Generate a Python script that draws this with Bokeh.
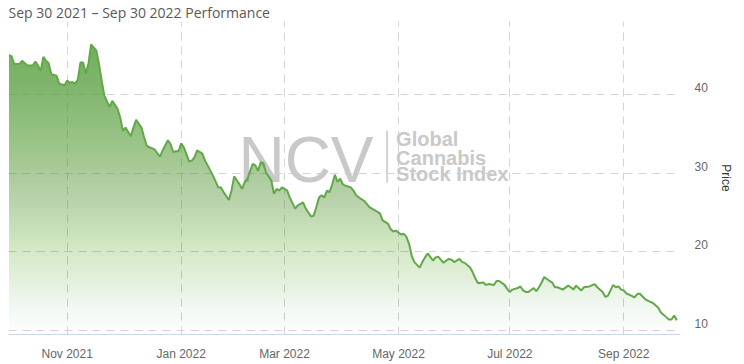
import numpy as np
from bokeh.plotting import figure
from bokeh.models import Range1d, LinearAxis, FixedTicker, Label
from bokeh.embed import file_html
from bokeh.resources import INLINE

title_text = "Sep 30 2021 – Sep 30 2022 Performance"

dates = [
    "2021-09-30", "2021-10-01", "2021-10-04", "2021-10-06", "2021-10-07", "2021-10-08",
    "2021-10-11", "2021-10-13", "2021-10-14", "2021-10-15", "2021-10-18", "2021-10-19",
    "2021-10-20", "2021-10-21", "2021-10-22", "2021-10-26", "2021-10-27", "2021-10-28",
    "2021-10-29", "2021-11-01", "2021-11-02", "2021-11-03", "2021-11-04", "2021-11-05",
    "2021-11-08", "2021-11-09", "2021-11-10", "2021-11-11", "2021-11-12", "2021-11-16",
    "2021-11-17", "2021-11-18", "2021-11-19", "2021-11-23", "2021-11-24", "2021-11-29",
    "2021-11-30", "2021-12-01", "2021-12-02", "2021-12-06", "2021-12-07", "2021-12-08",
    "2021-12-10", "2021-12-13", "2021-12-14", "2021-12-15", "2021-12-16", "2021-12-17",
    "2021-12-21", "2021-12-22", "2021-12-27", "2021-12-28", "2021-12-29", "2021-12-30",
    "2021-12-31", "2022-01-03", "2022-01-04", "2022-01-06", "2022-01-07", "2022-01-10",
    "2022-01-11", "2022-01-13", "2022-01-14", "2022-01-18", "2022-01-20", "2022-01-24",
    "2022-01-25", "2022-01-26", "2022-01-28", "2022-01-31", "2022-02-01", "2022-02-03",
    "2022-02-04", "2022-02-07", "2022-02-08", "2022-02-10", "2022-02-11", "2022-02-14",
    "2022-02-15", "2022-02-16", "2022-02-17", "2022-02-22", "2022-02-23", "2022-02-24",
    "2022-02-25", "2022-02-28", "2022-03-02", "2022-03-03", "2022-03-07", "2022-03-08",
    "2022-03-10", "2022-03-11", "2022-03-15", "2022-03-16", "2022-03-17", "2022-03-18",
    "2022-03-21", "2022-03-22", "2022-03-23", "2022-03-24", "2022-03-25", "2022-03-28",
    "2022-03-29", "2022-03-30", "2022-03-31", "2022-04-01", "2022-04-05", "2022-04-06",
    "2022-04-07", "2022-04-11", "2022-04-12", "2022-04-13", "2022-04-14", "2022-04-19",
    "2022-04-21", "2022-04-22", "2022-04-26", "2022-04-27", "2022-04-28", "2022-04-29",
    "2022-05-03", "2022-05-04", "2022-05-05", "2022-05-06", "2022-05-09", "2022-05-10",
    "2022-05-12", "2022-05-13", "2022-05-16", "2022-05-17", "2022-05-19", "2022-05-20",
    "2022-05-23", "2022-05-25", "2022-05-26", "2022-05-27", "2022-05-31", "2022-06-01",
    "2022-06-03", "2022-06-06", "2022-06-07", "2022-06-09", "2022-06-10", "2022-06-13",
    "2022-06-14", "2022-06-16", "2022-06-17", "2022-06-21", "2022-06-23", "2022-06-24",
    "2022-06-27", "2022-06-29", "2022-06-30", "2022-07-01", "2022-07-05", "2022-07-07",
    "2022-07-08", "2022-07-11", "2022-07-12", "2022-07-13", "2022-07-15", "2022-07-18",
    "2022-07-19", "2022-07-20", "2022-07-21", "2022-07-25", "2022-07-26", "2022-07-27",
    "2022-07-28", "2022-08-01", "2022-08-03", "2022-08-04", "2022-08-05", "2022-08-08",
    "2022-08-10", "2022-08-11", "2022-08-15", "2022-08-17", "2022-08-18", "2022-08-22",
    "2022-08-23", "2022-08-24", "2022-08-26", "2022-08-29", "2022-08-30", "2022-08-31",
    "2022-09-01", "2022-09-02", "2022-09-07", "2022-09-08", "2022-09-09", "2022-09-12",
    "2022-09-14", "2022-09-15", "2022-09-19", "2022-09-21", "2022-09-22", "2022-09-26",
    "2022-09-27", "2022-09-28", "2022-09-29", "2022-09-30",
]

prices = [
    45.0, 44.9, 43.9, 43.9, 44.3, 44.0,
    43.7, 43.7, 44.2, 43.7, 43.0, 44.8,
    44.3, 44.0, 42.6, 42.4, 41.4, 41.3,
    41.2, 41.8, 41.5, 41.6, 41.4, 41.9,
    44.1, 44.1, 42.7, 43.9, 46.4, 45.6,
    43.9, 41.8, 39.9, 38.4, 39.2, 38.2,
    37.1, 35.4, 35.8, 34.7, 35.8, 36.8,
    35.8, 34.6, 33.5, 33.3, 33.2, 33.0,
    32.1, 32.9, 34.2, 33.7, 32.7, 32.8,
    32.8, 33.8, 33.3, 31.5, 31.6, 32.0,
    32.9, 32.5, 31.6, 31.0, 29.7, 28.2,
    28.2, 27.6, 26.6, 27.8, 29.6, 28.6,
    28.0, 28.9, 29.3, 31.2, 31.0, 30.3,
    31.4, 31.3, 30.1, 29.1, 27.4, 28.0,
    27.8, 28.2, 27.8, 26.9, 25.5, 25.9,
    26.3, 25.5, 24.5, 24.6, 25.7, 26.9,
    27.2, 26.9, 27.8, 27.6, 28.6, 29.8,
    28.9, 29.3, 28.6, 28.4, 28.2, 27.8,
    27.2, 26.7, 26.5, 26.1, 25.7, 25.3,
    24.9, 24.0, 23.6, 22.9, 22.6, 22.7,
    22.2, 22.3, 21.9, 21.0, 19.5, 18.7,
    18.0, 18.7, 19.3, 19.8, 18.9, 19.3,
    19.4, 18.6, 18.9, 19.1, 19.0, 18.7,
    19.1, 18.7, 18.6, 18.0, 17.4, 16.6,
    16.0, 16.1, 15.8, 15.9, 15.8, 16.3,
    16.3, 15.8, 15.3, 14.9, 15.2, 15.4,
    15.6, 15.1, 14.9, 14.9, 15.4, 15.0,
    15.5, 16.1, 16.8, 16.3, 16.1, 15.5,
    15.5, 15.2, 15.7, 15.5, 15.2, 15.7,
    15.1, 15.5, 15.6, 15.9, 15.5, 14.9,
    14.3, 14.4, 15.8, 15.5, 15.6, 15.2,
    15.1, 14.7, 14.4, 14.2, 14.6, 14.7,
    14.0, 13.8, 13.5, 12.9, 12.3, 11.7,
    11.4, 11.4, 11.9, 11.3,
]

market_holidays = [
    "2021-11-25", "2021-12-24", "2022-01-17", "2022-02-21", "2022-04-15",
    "2022-05-30", "2022-06-20", "2022-07-04", "2022-09-05",
]
tick_dates = ["2021-11-01", "2022-01-03", "2022-03-01", "2022-05-02", "2022-07-01", "2022-09-01"]
tick_labels = ["Nov 2021", "Jan 2022", "Mar 2022", "May 2022", "Jul 2022", "Sep 2022"]
y_ticks = [10, 20, 30, 40]
y_title = "Price"
watermark_big = "NCV"
watermark_lines = ["Global", "Cannabis", "Stock Index"]

# ordinal (trading-day) x positions, as in a stock chart
first_day = np.datetime64(dates[0])
def ordinal(ds):
    return np.busday_count(first_day, np.array(ds, dtype="datetime64[D]"), holidays=market_holidays)

xs = ordinal(dates).astype(float)
ys = np.array(prices, dtype=float)
tick_pos = [int(v) for v in ordinal(tick_dates)]

Y0, Y1 = 9.49, 49.30
LINE_COLOR = "#62a84b"
FILL_COLOR = "#6cb253"
GRID_COLOR = "#d4d4d4"
LABEL_COLOR = "#666666"
WM_COLOR = "#c9c9c9"

p = figure(width=744, height=364, output_backend="svg", toolbar_location=None,
           x_range=Range1d(-0.15, 253.4), y_range=Range1d(Y0, Y1),
           y_axis_location=None, min_border_left=8, min_border_right=64,
           min_border_bottom=30, min_border_top=0)
p.outline_line_color = None
p.background_fill_color = "white"
p.border_fill_color = "white"

p.title.text = title_text
p.title.align = "left"
p.title.text_font = "Open Sans"
p.title.text_font_size = "14px"
p.title.text_font_style = "normal"
p.title.text_color = "#595959"
p.title.standoff = 0

# grids
p.xgrid.ticker = FixedTicker(ticks=tick_pos)
p.ygrid.ticker = FixedTicker(ticks=y_ticks)
for g in (p.xgrid, p.ygrid):
    g.grid_line_color = GRID_COLOR
    g.grid_line_dash = "8 6"
    g.grid_line_width = 1

# x axis
xa = p.xaxis[0]
xa.ticker = FixedTicker(ticks=tick_pos)
xa.major_label_overrides = {t: l for t, l in zip(tick_pos, tick_labels)}
xa.axis_line_color = "#ccd6eb"
xa.major_tick_line_color = None
xa.minor_tick_line_color = None
xa.major_tick_out = 0
xa.major_tick_in = 0
xa.major_label_standoff = 12
xa.major_label_text_font = "Liberation Sans"
xa.major_label_text_font_size = "12px"
xa.major_label_text_color = LABEL_COLOR

# right axis, labels sit slightly above their grid lines
shift = 0.89
p.extra_y_ranges = {"lab": Range1d(Y0 - shift, Y1 - shift)}
ya = LinearAxis(y_range_name="lab", ticker=FixedTicker(ticks=y_ticks))
ya.axis_line_color = None
ya.major_tick_line_color = None
ya.minor_tick_line_color = None
ya.major_tick_out = 0
ya.major_tick_in = 0
ya.major_label_standoff = 14
ya.major_label_text_font = "Liberation Sans"
ya.major_label_text_font_size = "12px"
ya.major_label_text_color = LABEL_COLOR
ya.axis_label = y_title
ya.axis_label_text_font = "Liberation Sans"
ya.axis_label_text_font_size = "12px"
ya.axis_label_text_font_style = "normal"
ya.axis_label_text_color = "#333333"
ya.axis_label_standoff = 8
p.add_layout(ya, "right")

# watermark (underlay)
p.add_layout(Label(x=86.6, y=31.65, text=watermark_big, text_font="Liberation Sans",
                   text_font_size="64px", text_color=WM_COLOR, text_baseline="alphabetic",
                   level="underlay"))
for txt, yb in zip(watermark_lines, [34.3, 32.0, 29.9]):
    p.add_layout(Label(x=146.1, y=yb, text=txt, text_font="Liberation Sans",
                       text_font_size="20px", text_font_style="bold", text_color=WM_COLOR,
                       text_baseline="alphabetic", level="underlay"))
sep = p.segment(x0=[142.7], y0=[28.81], x1=[142.7], y1=[35.42], line_color="#d2d2d2", line_width=2)
sep.level = "underlay"

# gradient area: stacked translucent layers
def layer(x, y, L):
    ox, oy = [], []
    for k in range(len(x)):
        if k > 0:
            a, b = y[k - 1], y[k]
            if (a - L) * (b - L) < 0:
                ox.append(x[k - 1] + (L - a) / (b - a) * (x[k] - x[k - 1]))
                oy.append(L)
        ox.append(x[k])
        oy.append(max(y[k], L))
    return ox, oy

top = ys.max()
step = 0.5
levels = np.arange(Y0, top, step)
max_alpha = 0.93
prev = 0.0
for L in levels:
    T = min(1.0, (L + step / 2 - Y0) / (top - Y0)) * max_alpha
    a = 1 - (1 - T) / (1 - prev)
    prev = T
    lx, ly = layer(xs, ys, L)
    p.varea(x=lx, y1=[L] * len(lx), y2=ly, fill_color=FILL_COLOR, fill_alpha=max(a, 0.0))

p.line(xs, ys, line_color=LINE_COLOR, line_width=2)

open("out.html", "w").write(file_html(p, INLINE))
